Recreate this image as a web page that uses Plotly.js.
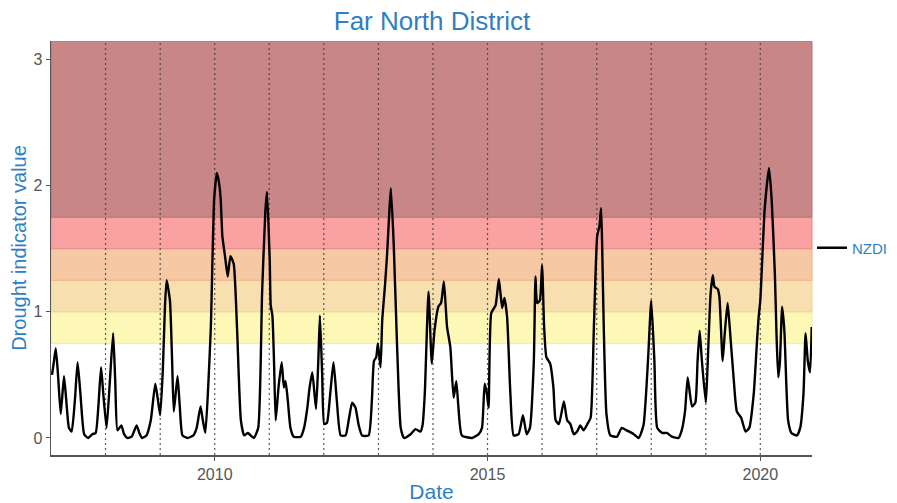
<!DOCTYPE html>
<html>
<head>
<meta charset="utf-8">
<script src="https://cdn.plot.ly/plotly-3.0.1.min.js"></script>
<style>html,body{margin:0;padding:0;background:#fff;}#chart{width:897px;height:503px;}</style>
</head>
<body>
<div id="chart"></div>
<script>
// Decimal-year time stamps
const decimalYears = [
2007.02,2007.06,2007.09,2007.13,2007.18,2007.24,2007.28,2007.33,2007.38,2007.44,2007.49,2007.54,2007.61,2007.68,2007.76,2007.82,2007.87,2007.92,2007.96,
2008.02,2008.08,2008.14,2008.18,2008.22,2008.29,2008.34,2008.40,2008.48,2008.57,2008.62,2008.67,2008.75,2008.83,2008.91,2008.96,
2009.00,2009.05,2009.09,2009.12,2009.18,2009.22,2009.25,2009.32,2009.36,2009.41,2009.50,2009.61,2009.67,2009.74,2009.78,2009.83,2009.88,2009.93,2009.99,
2010.04,2010.08,2010.11,2010.14,2010.19,2010.24,2010.29,2010.35,2010.41,2010.48,2010.54,2010.61,2010.66,2010.72,2010.80,2010.87,2010.93,2010.96,
2011.01,2011.03,2011.06,2011.09,2011.12,2011.17,2011.23,2011.27,2011.30,2011.34,2011.39,2011.45,2011.58,2011.64,2011.70,2011.74,2011.79,2011.86,2011.90,2011.93,2011.97,
2012.01,2012.06,2012.12,2012.18,2012.24,2012.31,2012.40,2012.46,2012.52,2012.58,2012.64,2012.70,2012.82,2012.88,2012.92,2012.96,2012.99,
2013.04,2013.07,2013.12,2013.16,2013.20,2013.23,2013.28,2013.34,2013.41,2013.47,2013.59,2013.68,2013.77,2013.81,2013.85,2013.92,2013.98,
2014.03,2014.10,2014.15,2014.20,2014.26,2014.32,2014.38,2014.43,2014.47,2014.53,2014.72,2014.84,2014.90,2014.95,2014.99,
2015.02,2015.07,2015.15,2015.21,2015.27,2015.31,2015.36,2015.42,2015.48,2015.57,2015.65,2015.72,2015.78,2015.85,2015.88,2015.91,2015.96,
2016.00,2016.04,2016.08,2016.15,2016.21,2016.25,2016.31,2016.40,2016.46,2016.52,2016.58,2016.64,2016.70,2016.76,2016.83,2016.89,2016.95,
2017.01,2017.05,2017.08,2017.10,2017.13,2017.18,2017.25,2017.37,2017.46,2017.55,2017.68,2017.77,2017.86,2017.94,
2018.00,2018.06,2018.11,2018.20,2018.29,2018.38,2018.50,2018.56,2018.62,2018.67,2018.75,2018.81,2018.85,2018.89,2018.93,
2019.00,2019.03,2019.09,2019.13,2019.16,2019.22,2019.25,2019.31,2019.35,2019.40,2019.44,2019.51,2019.57,2019.65,2019.73,2019.80,2019.88,2019.94,2019.97,
2020.00,2020.08,2020.16,2020.21,2020.27,2020.30,2020.33,2020.36,2020.40,2020.44,2020.48,2020.51,2020.57,2020.67,2020.73,2020.79,2020.83,2020.87,2020.91,2020.94
];
// NZDI values
const nzdi = [
0.50,0.62,0.71,0.50,0.19,0.49,0.30,0.08,0.05,0.30,0.60,0.35,0.03,0.00,0.03,0.04,0.25,0.56,0.35,
0.08,0.45,0.83,0.45,0.06,0.10,0.03,0.00,0.01,0.10,0.04,0.00,0.02,0.14,0.43,0.30,
0.18,0.55,1.05,1.25,1.09,0.60,0.21,0.49,0.25,0.02,0.00,0.02,0.08,0.25,0.15,0.04,0.40,0.88,1.89,
2.10,2.02,1.89,1.60,1.44,1.28,1.44,1.38,0.88,0.14,0.02,0.04,0.02,0.00,0.08,1.15,1.80,1.95,
1.41,1.05,0.97,0.60,0.14,0.40,0.60,0.40,0.45,0.30,0.08,0.01,0.01,0.08,0.24,0.40,0.52,0.23,0.60,0.97,0.51,
0.11,0.12,0.35,0.60,0.30,0.02,0.02,0.15,0.28,0.24,0.10,0.02,0.02,0.30,0.61,0.64,0.75,
0.56,0.93,1.20,1.46,1.80,1.98,1.54,0.75,0.08,0.00,0.03,0.07,0.05,0.10,0.35,1.16,0.59,
0.85,1.04,1.07,1.24,0.88,0.72,0.32,0.45,0.23,0.02,0.00,0.03,0.08,0.43,0.35,
0.24,0.99,1.05,1.26,1.03,1.11,0.96,0.35,0.02,0.03,0.18,0.03,0.08,0.61,1.28,1.07,1.09,
1.37,0.88,0.64,0.59,0.40,0.14,0.11,0.29,0.14,0.11,0.03,0.05,0.10,0.06,0.11,0.16,0.88,
1.60,1.68,1.82,1.54,0.88,0.19,0.02,0.01,0.08,0.06,0.03,0.00,0.10,0.61,
1.09,0.61,0.08,0.04,0.04,0.01,0.00,0.06,0.21,0.48,0.25,0.28,0.61,0.85,0.61,
0.28,0.51,1.14,1.29,1.20,1.18,1.12,0.61,0.83,1.07,0.88,0.48,0.21,0.16,0.05,0.08,0.35,0.77,0.96,
1.09,1.81,2.14,1.89,1.28,0.80,0.48,0.60,1.04,0.85,0.40,0.14,0.04,0.02,0.08,0.35,0.83,0.61,0.52,0.88
];
// Drought category bands (lower, upper bound, fill)
const bandLower = [0.75, 1.0, 1.25, 1.5, 1.75];
const bandUpper = [1.0, 1.25, 1.5, 1.75, 3.146];
const bandColors = ['#fdf8b6', '#f8dfaf', '#f6c8a3', '#f9a2a1', '#c98687'];
const bandEdge = ['#f3ea9a', '#f0cf98', '#eeb48c', '#e88a88', '#b87272'];
// Dotted year markers
const markerYears = [2008,2009,2010,2011,2012,2013,2014,2015,2016,2017,2018,2019,2020];

function toDate(dy) {
  const y = Math.floor(dy);
  const start = Date.UTC(y, 0, 1), end = Date.UTC(y + 1, 0, 1);
  const d = new Date(start + (dy - y) * (end - start));
  return d.toISOString().slice(0, 10);
}

const xDates = decimalYears.map(toDate);
const blue = '#2f7fc1';
const font = 'Liberation Sans, Arial, Helvetica, sans-serif';

const shapes = [];
for (let i = 0; i < bandLower.length; i++) {
  shapes.push({type:'rect', xref:'paper', x0:0, x1:1, yref:'y', y0:bandLower[i], y1:bandUpper[i],
    fillcolor:bandColors[i], line:{width:1, color:bandEdge[i]}, layer:'below'});
}
markerYears.forEach(y => {
  shapes.push({type:'line', xref:'x', x0:y + '-01-01', x1:y + '-01-01', yref:'paper', y0:0, y1:1,
    line:{color:'rgba(70,60,60,0.85)', width:1.2, dash:'2px,3px'}, layer:'below'});
});

const trace = {
  x: xDates, y: nzdi, type:'scatter', mode:'lines', name:'NZDI',
  line:{color:'#000', width:2.4, shape:'spline', smoothing:0.5}
};

const layout = {
  width:897, height:503,
  margin:{l:51, r:85, t:41, b:48, autoexpand:false},
  paper_bgcolor:'#fff', plot_bgcolor:'#fff',
  title:{text:'Far North District', font:{family:font, size:26, color:blue}, x:0.4816, xanchor:'center', y:0.958, yanchor:'middle', xref:'container'},
  xaxis:{type:'date', range:['2007-01-01','2020-12-12'], showgrid:false, zeroline:false,
    showline:true, linecolor:'#555', linewidth:1.5, ticks:'outside', ticklen:4, tickcolor:'#555',
    tickvals:['2010-01-01','2015-01-01','2020-01-01'], ticktext:['2010','2015','2020'],
    tickfont:{family:font, size:16, color:'#555'},
    title:{text:'Date', font:{family:font, size:21, color:blue}, standoff:2}},
  yaxis:{range:[-0.135, 3.146], showgrid:false, zeroline:false,
    showline:true, linecolor:'#555', linewidth:1.5, ticks:'outside', ticklen:4, tickcolor:'#555',
    tickvals:[0,1,2,3], tickfont:{family:font, size:16, color:'#555'},
    title:{text:'Drought indicator value', font:{family:font, size:20, color:blue}, standoff:1}},
  showlegend:true,
  legend:{x:1.0, xanchor:'left', y:0.5, yanchor:'middle', font:{family:font, size:15, color:blue},
    bgcolor:'rgba(0,0,0,0)', itemwidth:30},
  shapes: shapes
};

Plotly.newPlot('chart', [trace], layout, {displayModeBar:false, staticPlot:true});
</script>
</body>
</html>
